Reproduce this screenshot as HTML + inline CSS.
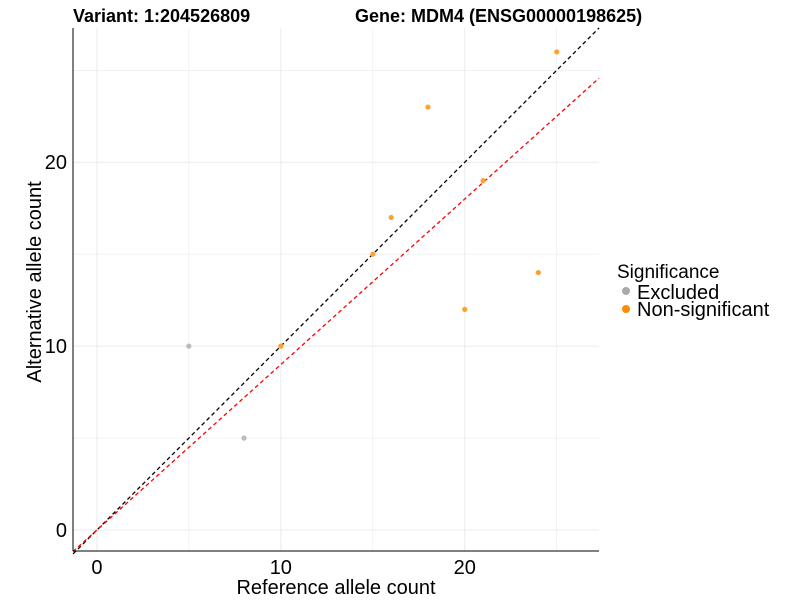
<!DOCTYPE html>
<html><head><meta charset="utf-8"><style>
body{margin:0;background:#fff;}
svg text{font-family:"Liberation Sans",Arial,sans-serif;}
</style></head><body>
<svg id="chart" width="800" height="600" xmlns="http://www.w3.org/2000/svg">
<text x="73" y="22" font-size="18" font-weight="bold">Variant: 1:204526809</text>
<text x="355" y="22" font-size="18" font-weight="bold">Gene: MDM4 (ENSG00000198625)</text>
<g id="grid"></g><g id="lines"></g><g id="points"></g><g id="axes"></g>
<text x="336" y="594" font-size="20" text-anchor="middle">Reference allele count</text>
<text transform="translate(41,282) rotate(-90)" font-size="20" text-anchor="middle">Alternative allele count</text>
<g>
<text x="617" y="278" font-size="19">Significance</text>
<circle cx="626" cy="291" r="4" fill="#aaaaaa"/>
<text x="637" y="299" font-size="20">Excluded</text>
<circle cx="626" cy="309" r="4" fill="#ff8c00"/>
<text x="637" y="316" font-size="20">Non-significant</text>
</g>
</svg>
<script>
const refCounts=[5,8,10,15,16,18,20,21,24,25];
const altCounts=[10,5,10,15,17,23,12,19,14,26];
const groups=["Excluded","Excluded","Non-significant","Non-significant","Non-significant","Non-significant","Non-significant","Non-significant","Non-significant","Non-significant"];
const majorTicks=[0,10,20];
const minorTicks=[5,15,25];
const refSlope=0.9;
const NS="http://www.w3.org/2000/svg";
const L=73,R=599,T=28,B=551,xmin=-1.3,xmax=27.3,ymin=-1.14,ymax=27.3;
const sx=v=>L+(v-xmin)/(xmax-xmin)*(R-L);
const sy=v=>B-(v-ymin)/(ymax-ymin)*(B-T);
function mk(tag,attrs,parent){const e=document.createElementNS(NS,tag);for(const k in attrs)e.setAttribute(k,attrs[k]);document.getElementById(parent).appendChild(e);return e;}
minorTicks.concat(majorTicks).forEach(t=>{
 const w=majorTicks.includes(t)?1:0.6;
 let g=mk('line',{x1:sx(t),x2:sx(t),y1:T,y2:B,stroke:'#ebebeb','stroke-width':w},'grid');
 
 
 g=mk('line',{x1:L,x2:R,y1:sy(t),y2:sy(t),stroke:'#ebebeb','stroke-width':w},'grid');
 
 
});
let l=mk('line',{x1:sx(xmin),y1:sy(xmin),x2:sx(ymax),y2:sy(ymax),stroke:'#000','stroke-width':1.3,'stroke-dasharray':'4,3'},'lines');


l=mk('line',{x1:sx(xmin),y1:sy(xmin*refSlope),x2:sx(xmax),y2:sy(xmax*refSlope),stroke:'#ff0000','stroke-width':1.3,'stroke-dasharray':'4,3'},'lines');


refCounts.forEach((r,i)=>{
 const c=mk('circle',{cx:sx(r),cy:sy(altCounts[i]),r:2.6,fill:groups[i]==="Excluded"?'#bbbbbb':'#ffa030'},'points');
 
 
});
let a=mk('line',{x1:L,x2:L,y1:T,y2:B,stroke:'#000','stroke-width':1},'axes');


a=mk('line',{x1:L,x2:R,y1:B,y2:B,stroke:'#000','stroke-width':1},'axes');


majorTicks.forEach(t=>{
 let tx=mk('text',{x:sx(t),y:B+23,'font-size':20,'text-anchor':'middle'},'axes');tx.textContent=t;
 
 
 tx=mk('text',{x:L-6,y:sy(t)+7,'font-size':20,'text-anchor':'end'},'axes');tx.textContent=t;
 
 
});
</script>
</body></html>
